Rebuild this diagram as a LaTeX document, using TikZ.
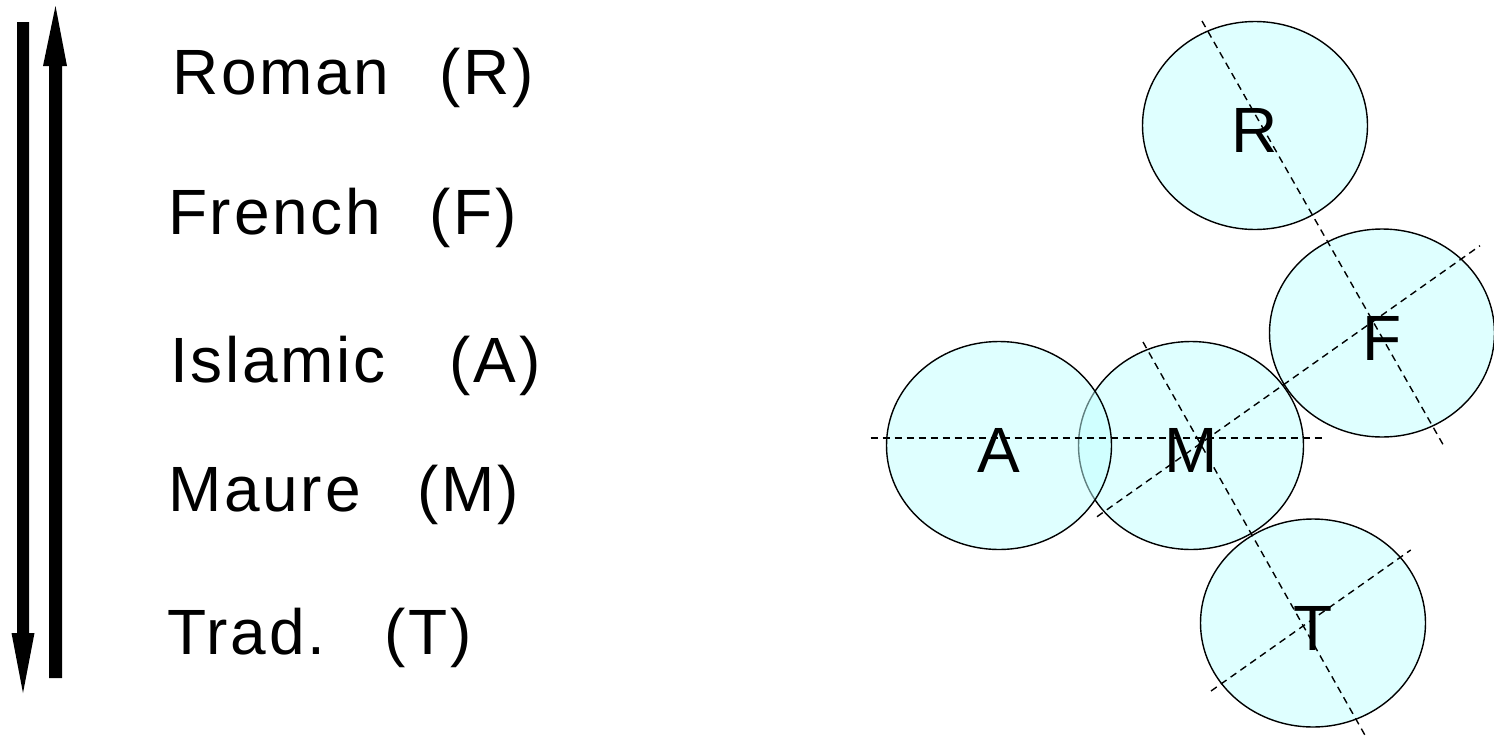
\documentclass[tikz,border=0pt]{standalone}
\usepackage{fontspec}
\setmainfont{Liberation Sans}
\newfontfamily\listfont[LetterSpace=4.3]{Liberation Sans}
\usetikzlibrary{shapes.geometric}
\definecolor{discfill}{RGB}{192,255,255}
\tikzset{
  disc/.style={ellipse, draw=black, line width=1.4pt, fill=discfill, fill opacity=0.5, text opacity=1,
    minimum width=225pt, minimum height=208pt, inner sep=0pt, text height=54pt, text depth=0pt,
    font=\fontsize{64}{70}\selectfont},
  axis/.style={draw=black, line width=1.4pt, dash pattern=on 7pt off 5pt},
  item/.style={anchor=base west, inner sep=0pt, font=\listfont\fontsize{64}{70}\selectfont},
  bigarrow/.style={fill=black}
}
\begin{document}
\begin{tikzpicture}[x=1pt,y=-1pt]
\useasboundingbox (0,0) rectangle (1494,737);
% vertical arrows
\fill[bigarrow] (17,22) -- (29,22) -- (29,633) -- (34.5,633) -- (23,693) -- (11.5,633) -- (17,633) -- cycle;
\fill[bigarrow] (49,678) -- (62,678) -- (62,66) -- (67,66) -- (55.5,6) -- (43,66) -- (49,66) -- cycle;
% list
\node[item] (tR) at (172,94) {Roman\hspace{50pt}(R)};
\node[item] (tF) at (168,234) {French\hspace{48pt}(F)};
\node[item] (tA) at (170,382) {Islamic\hspace{64pt}(A)};
\node[item] (tM) at (168,511) {Maure\hspace{57pt}(M)};
\node[item] (tT) at (167,654) {Trad.\hspace{59pt}(T)};
% circles
\node[disc] (R) at (1255,125.5) {R};
\node[disc] (F) at (1382,333) {F};
\node[disc] (T) at (1313,623) {T};
\node[disc] (M) at (1191,445.5) {M};
\node[disc] (A) at (999,445.5) {A};
% axes
\coordinate (h1) at (870.7,438);
\coordinate (h2) at (1325,438);
\coordinate (rf1) at (1202,21);
\coordinate (rf2) at (1445,448);
\coordinate (mt1) at (1143,342);
\coordinate (mt2) at (1366,737);
\coordinate (mf1) at (1097,516.7);
\coordinate (mf2) at (1480,245.7);
\coordinate (t1) at (1211,691);
\coordinate (t2) at (1410.7,550);
\draw[axis] (h1) -- (h2);
\draw[axis] (rf1) -- (rf2);
\draw[axis] (mt1) -- (mt2);
\draw[axis] (mf1) -- (mf2);
\draw[axis] (t1) -- (t2);
\end{tikzpicture}
\end{document}
